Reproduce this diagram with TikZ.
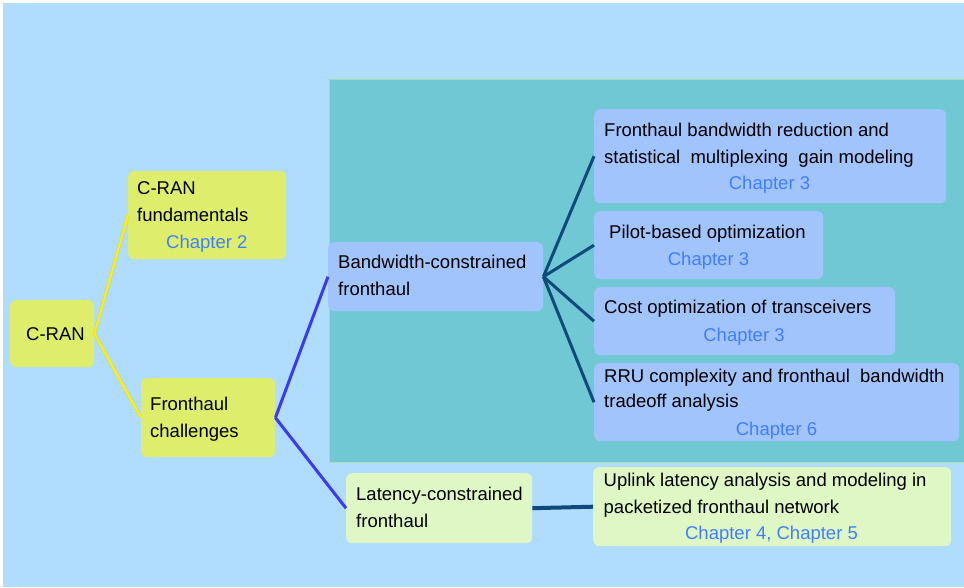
\documentclass[tikz,border=0pt]{standalone}
\usepackage{fontspec}
\setmainfont{Liberation Sans}
\definecolor{bgblue}{HTML}{B0DCFE}
\definecolor{teal1}{HTML}{70C8D4}
\definecolor{tealedge}{HTML}{A8DCB8}
\definecolor{ygreen}{HTML}{DEEE6C}
\definecolor{bbox}{HTML}{A2C4FD}
\definecolor{lgreen}{HTML}{DFF7C4}
\definecolor{chap}{HTML}{3F7FFF}
\definecolor{ylw}{HTML}{FFF200}
\definecolor{ylwedge}{HTML}{C8C880}
\definecolor{blu}{HTML}{3A3AF0}
\definecolor{navy}{HTML}{0E4A7A}
\begin{document}
\begin{tikzpicture}[x=1pt,y=-1pt,
  box/.style={rectangle, rounded corners=6pt, inner sep=0pt, anchor=north west},
  txt/.style={anchor=base west, inner sep=0pt, font=\fontsize{18.5}{26}\selectfont},
  ctxt/.style={anchor=base, inner sep=0pt, text=chap, font=\fontsize{18.5}{26}\selectfont},
  yedge/.style={draw=ylwedge, line width=2.9pt},
  yline/.style={draw=ylw, line width=2.3pt},
  bline/.style={draw=blu, line width=3pt},
  nline/.style={draw=navy, line width=3pt}]
\useasboundingbox (0,0) rectangle (964,587);
\fill[bgblue] (3,3) rectangle (964,587);
\filldraw[fill=teal1, draw=tealedge, line width=0.8pt] (329,79) rectangle (966,462);

% boxes
\node[box, fill=ygreen, minimum width=84pt, minimum height=67pt] (cran) at (10,300) {};
\node[box, fill=ygreen, minimum width=158pt, minimum height=88pt] (fund) at (128,171) {};
\node[box, fill=ygreen, minimum width=134pt, minimum height=79pt] (fc) at (141,378) {};
\node[box, fill=bbox, minimum width=215pt, minimum height=69pt] (bw) at (328,242) {};
\node[box, fill=bbox, minimum width=352pt, minimum height=94pt] (b1) at (594,109) {};
\node[box, fill=bbox, minimum width=229pt, minimum height=68pt] (b2) at (594,211) {};
\node[box, fill=bbox, minimum width=301pt, minimum height=68pt] (b3) at (594,287) {};
\node[box, fill=bbox, minimum width=365pt, minimum height=78pt] (b4) at (594,363) {};
\node[box, fill=lgreen, minimum width=186pt, minimum height=70pt] (lat) at (346,473) {};
\node[box, fill=lgreen, minimum width=358pt, minimum height=79pt] (up) at (593,467) {};

% connectors
\draw[yedge] (cran.east) -- (fund.west);
\draw[yedge] (cran.east) -- (fc.west);
\draw[yline] (cran.east) -- (fund.west);
\draw[yline] (cran.east) -- (fc.west);
\draw[bline] (fc.east) -- (bw.west);
\draw[bline] (fc.east) -- (lat.west);
\draw[nline] (bw.east) -- (b1.west);
\draw[nline] (bw.east) -- (b2.west);
\draw[nline] (bw.east) -- (b3.west);
\draw[nline] (bw.east) -- (b4.west);
\draw[navy, line width=4pt] (lat.east) -- (up.west);

% texts
\node[txt] (tcran) at (26,340) {C-RAN};
\node[txt] (tfund1) at (137,194) {C-RAN};
\node[txt] (tfund2) at (137,221) {fundamentals};
\node[txt, text=chap] (tfund3) at (166,248) {Chapter 2};
\node[txt] (tfc1) at (150,410) {Fronthaul};
\node[txt] (tfc2) at (150,437) {challenges};
\node[txt] (tbw1) at (338,268) {Bandwidth-constrained};
\node[txt] (tbw2) at (338,295) {fronthaul};
\node[txt] (tb1a) at (604,136) {Fronthaul bandwidth reduction and};
\node[txt] (tb1b) at (604,163) {statistical\ \ multiplexing\ \ gain modeling};
\node[ctxt] (tb1c) at (769.5,189.5) {Chapter 3};
\node[txt] (tb2a) at (609,238) {Pilot-based optimization};
\node[ctxt] (tb2b) at (708.5,265) {Chapter 3};
\node[txt] (tb3a) at (604,313.5) {Cost optimization of transceivers};
\node[ctxt] (tb3b) at (744,341) {Chapter 3};
\node[txt] (tb4a) at (604,382) {RRU complexity and fronthaul\ \ bandwidth};
\node[txt] (tb4b) at (604,407.5) {tradeoff analysis};
\node[ctxt] (tb4c) at (776.5,435) {Chapter 6};
\node[txt] (tlat1) at (356,500) {Latency-constrained};
\node[txt] (tlat2) at (356,527) {fronthaul};
\node[txt] (tup1) at (603.5,486) {Uplink latency analysis and modeling in};
\node[txt] (tup2) at (603.5,513) {packetized fronthaul network};
\node[ctxt] (tup3) at (771.5,539.5) {Chapter 4, Chapter 5};
\end{tikzpicture}
\end{document}
